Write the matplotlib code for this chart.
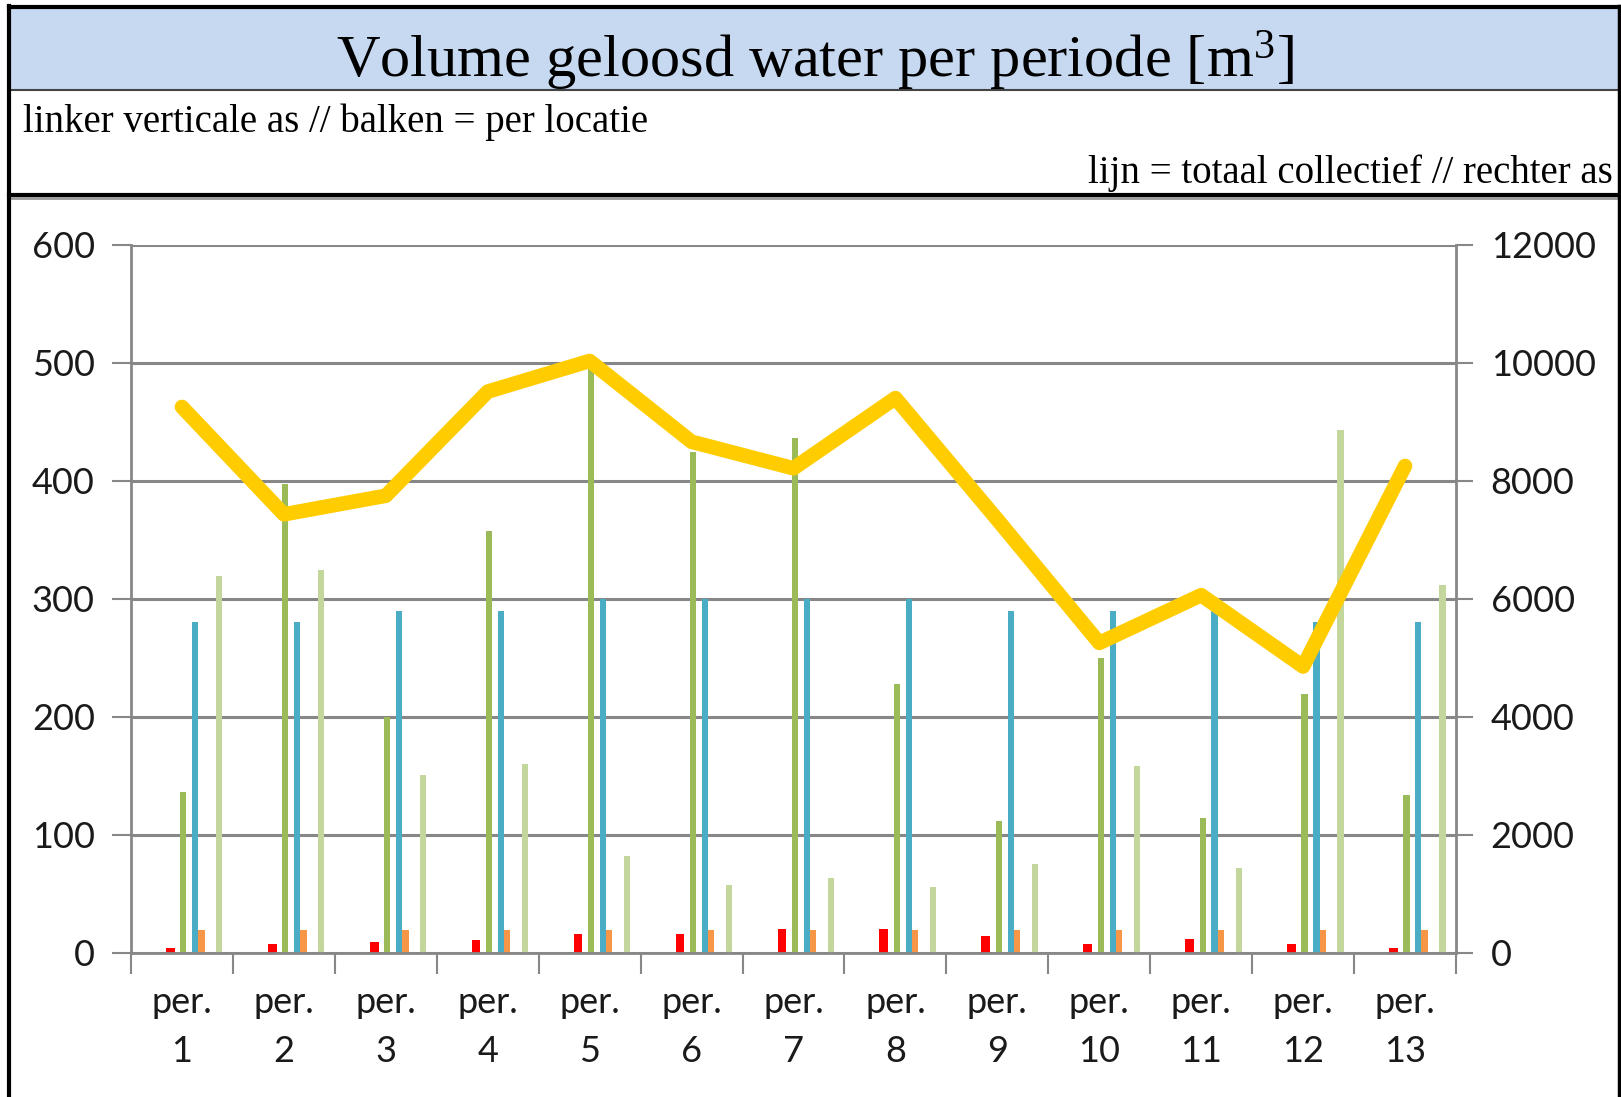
import numpy as np
import matplotlib
matplotlib.use("Agg")
import matplotlib.pyplot as plt
from matplotlib.patches import Rectangle
from matplotlib.lines import Line2D

# data
periods = ["per.\n%d" % i for i in range(1, 14)]
loc_red = [4, 7, 9, 11, 16, 16, 20, 20, 14, 7, 12, 7, 4]
loc_green = [136, 397, 200, 357, 499, 424, 436, 228, 112, 250, 114, 219, 134]
loc_blue = [280, 280, 290, 290, 300, 300, 300, 300, 290, 290, 290, 280, 280]
loc_orange = [19, 19, 19, 19, 19, 19, 19, 19, 19, 19, 19, 19, 19]
loc_lightgreen = [319, 324, 151, 160, 82, 57, 63, 56, 75, 158, 72, 443, 312]
total = [9250, 7430, 7745, 9510, 10030, 8660, 8210, 9400, 7340, 5250, 6060, 4850, 8250]

left_ticks = [0, 100, 200, 300, 400, 500, 600]
right_ticks = [0, 2000, 4000, 6000, 8000, 10000, 12000]

title = "Volume geloosd water per periode [m$^3$]"
note_left = "linker verticale as // balken = per locatie"
note_right = "lijn = totaal collectief // rechter as"

GRID = "#878787"
plt.rcParams["mathtext.fontset"] = "custom"
plt.rcParams["mathtext.rm"] = "Liberation Serif"
plt.rcParams["mathtext.it"] = "Liberation Serif"

W, H = 1621, 1097
fig = plt.figure(figsize=(W / 100, H / 100), dpi=100)

def fx(px):
    return px / W

def fy(py):
    return 1 - py / H

# header band and frame
fig.patches.append(Rectangle((fx(9), fy(90)), fx(1610), fy(9) - fy(90),
                             transform=fig.transFigure, facecolor="#c6d9f1",
                             edgecolor="none", zorder=0))
for (x0, y0, x1, y1, lw, c) in [(9, 7, 1619, 7, 3, "black"),
                                (9, 90, 1619, 90, 1.5, "#444444"),
                                (9, 195, 1619, 195, 3, "black"),
                                (9, 198, 1619, 198, 2, "#9a9a9a"),
                                (9, 6, 9, 1097, 3, "black"),
                                (1619, 6, 1619, 1097, 2.5, "black")]:
    fig.add_artist(Line2D([fx(x0), fx(x1)], [fy(y0), fy(y1)], lw=lw, color=c,
                          transform=fig.transFigure))

fig.text(fx(815), fy(77), title, ha="center", va="baseline",
         fontsize=43.5, family="Liberation Serif", color="black")
fig.text(fx(23), fy(132), note_left, ha="left", va="baseline",
         fontsize=28, family="Liberation Serif", color="black")
fig.text(fx(1613), fy(183), note_right, ha="right", va="baseline",
         fontsize=28, family="Liberation Serif", color="black")

# chart
ax = fig.add_axes([fx(131), fy(952.7), fx(1456 - 131), (952.7 - 244.7) / H])
x = np.arange(len(periods))
series = [
    (loc_red, "#ff0000", -0.114, 0.085),
    (loc_green, "#9bbb59", 0.014, 0.06),
    (loc_blue, "#4bacc6", 0.131, 0.06),
    (loc_orange, "#f79646", 0.192, 0.062),
    (loc_lightgreen, "#c3d69b", 0.367, 0.06),
]
for vals, col, off, w in series:
    ax.bar(x + off, vals, width=w, color=col, zorder=2)

ax.set_xlim(-0.5, len(periods) - 0.5)
ax.set_ylim(0, 600)
ax.set_yticks(left_ticks)
ax.set_axisbelow(True)
ax.grid(axis="y", color=GRID, lw=2.2)
ax.set_xticks(x)
ax.set_xticklabels(periods, family="Lato", fontsize=26, linespacing=1.6)
ax.set_xticks(np.arange(-0.5, len(periods)), minor=True)
ax.tick_params(axis="x", which="major", length=0, pad=24, colors="#1a1a1a")
ax.tick_params(axis="x", which="minor", length=15, width=1.5, color=GRID)
ax.tick_params(axis="y", length=14, width=1.5, color=GRID, pad=12,
               labelsize=26, labelcolor="#1a1a1a")
for lab in ax.get_yticklabels():
    lab.set_family("Lato")
for s in ["top", "right"]:
    ax.spines[s].set_visible(False)
for s in ["left", "bottom"]:
    ax.spines[s].set_color(GRID)
    ax.spines[s].set_linewidth(2)

ax2 = ax.twinx()
ax2.plot(x, total, color="#ffcc00", lw=10.5, solid_capstyle="round",
         solid_joinstyle="round", zorder=3)
ax2.set_ylim(0, 12000)
ax2.set_yticks(right_ticks)
ax2.tick_params(axis="y", length=12, width=1.5, color=GRID, pad=13,
                labelsize=26, labelcolor="#1a1a1a")
for lab in ax2.get_yticklabels():
    lab.set_family("Lato")
for s in ["top", "left", "bottom"]:
    ax2.spines[s].set_visible(False)
ax2.spines["right"].set_color(GRID)
ax2.spines["right"].set_linewidth(2)

fig.savefig("out.png", dpi=100)
